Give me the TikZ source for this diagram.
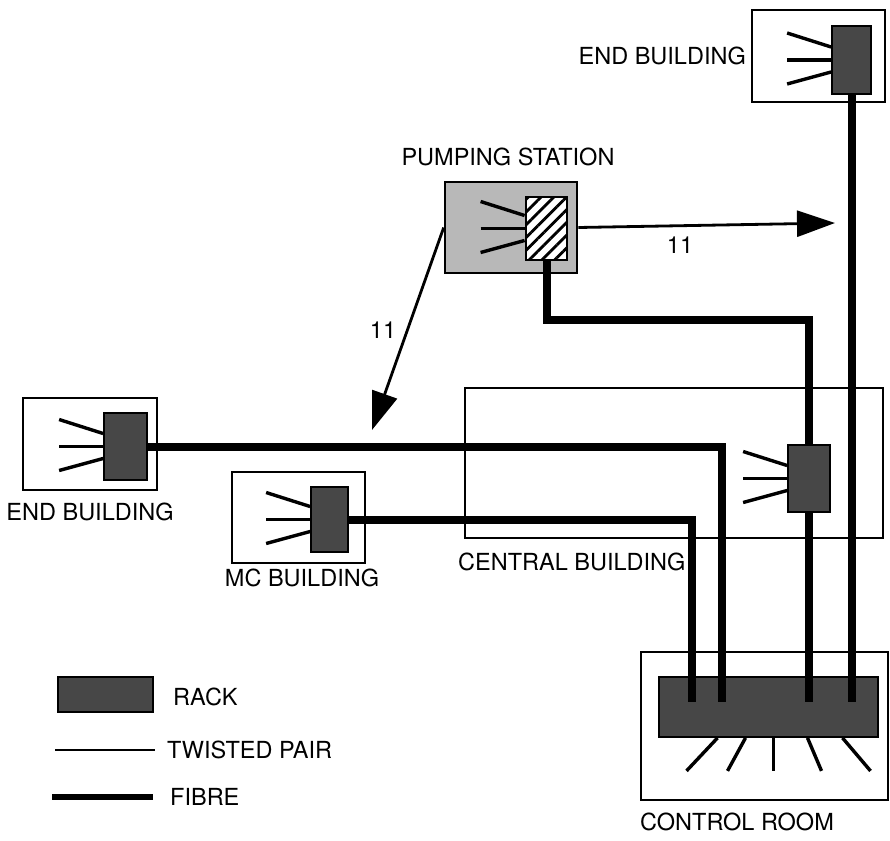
\documentclass[tikz,border=0pt]{standalone}
\usepackage{fontspec}
\setmainfont{TeX Gyre Heros}
\usetikzlibrary{arrows.meta,patterns.meta}

\tikzset{
  house/.style={draw, line width=2.6pt, inner sep=0pt},
  rack/.style={draw, line width=1.8pt, fill=black!72, inner sep=0pt},
  pair/.style={line width=3.4pt},
  fibre/.style={line width=8pt},
  flow/.style={line width=2.8pt, -{Triangle[length=38pt,width=26pt]}},
  lbl/.style={inner sep=0pt}
}

\begin{document}
\begin{tikzpicture}[x=1pt, y=-1pt, font=\fontsize{23.5}{28}\selectfont]
\useasboundingbox (0,0) rectangle (890,840);

% buildings
\node[house, minimum width=133pt, minimum height=92pt] (endT) at (818.5,56) {};
\node[house, minimum width=134pt, minimum height=92pt] (endL) at (90,444) {};
\node[house, minimum width=133pt, minimum height=91pt] (mc) at (298.5,517.5) {};
\node[house, fill=black!28, minimum width=132pt, minimum height=91pt] (pump) at (511,227.5) {};
\node[house, minimum width=418pt, minimum height=150pt] (cen) at (674,463) {};
\node[house, minimum width=247pt, minimum height=148pt] (ctrl) at (764.5,726) {};

% racks
\node[rack, minimum width=39pt, minimum height=68pt] (rackT) at (851.5,60) {};
\node[rack, minimum width=43pt, minimum height=67pt] (rackL) at (125.5,446.5) {};
\node[rack, minimum width=37pt, minimum height=65pt] (rackMC) at (329.5,519.5) {};
\node[draw, line width=1.8pt, inner sep=0pt, preaction={fill=white},
  pattern={Lines[angle=45, distance=9pt, line width=2.8pt]},
  minimum width=41pt, minimum height=63pt] (rackP) at (546.5,228.5) {};
\node[rack, minimum width=42pt, minimum height=67pt] (rackC) at (809,478.5) {};
\node[rack, minimum width=219pt, minimum height=60pt] (rackCR) at (768.5,707) {};

% fibres
\coordinate (dropA) at (692,702);
\coordinate (dropB) at (722,702);
\coordinate (bendP) at (546.5,320);
\draw[fibre] (rackMC.east) -| (dropA);
\draw[fibre] (rackL.east) -| (dropB);
\draw[fibre] (rackC.south) -- (rackC.south |- dropA);
\draw[fibre] (rackT.south) -- (rackT.south |- dropA);
\draw[fibre] (rackP.south) -- (bendP) -| (rackC.north);

% twisted pairs
\foreach \r in {rackT,rackL,rackMC,rackP,rackC}
  \foreach \a/\b in {-27/-13, 0/0, 24/12}
    \draw[pair] ([shift={(-44,\a)}]\r.west) -- ([shift={(0,\b)}]\r.west);
\foreach \a/\b in {-51/-82, -23/-41, 5/5, 39/53, 74/102}
  \draw[pair] ([shift={(\a,0)}]rackCR.south) -- ([shift={(\b,33)}]rackCR.south);

% links from the pumping station
\coordinate (tipR) at (835,223);
\coordinate (tipL) at (372,430);
\draw[flow] (pump.east) -- (tipR);
\draw[flow] (pump.west) -- (tipL);
\node[lbl] (numR) at (680,245) {11};
\node[lbl] (numL) at (383,330) {11};

% names
\node[lbl, anchor=east] (txtT) at (746,56) {END BUILDING};
\node[lbl] (txtP) at (508,157) {PUMPING STATION};
\node[lbl] (txtL) at (90,512) {END BUILDING};
\node[lbl] (txtMC) at (302,578) {MC BUILDING};
\node[lbl, anchor=west] (txtC) at (458,562) {CENTRAL BUILDING};
\node[lbl] (txtCR) at (737,822) {CONTROL ROOM};

% legend
\node[rack, minimum width=95pt, minimum height=35pt] (keyRack) at (105.5,694.5) {};
\node[lbl, anchor=west] (keyRackTxt) at (173,697) {RACK};
\node[lbl, anchor=west] (keyPairTxt) at (167,750) {TWISTED PAIR};
\node[lbl, anchor=west] (keyFibreTxt) at (170,797) {FIBRE};
\coordinate (keyPair) at (55,750);
\coordinate (keyFibre) at (52,797);
\draw[line width=2.4pt] (keyPair) -- ([shift={(-12,0)}]keyPairTxt.west);
\draw[line width=6pt] (keyFibre) -- ([shift={(-17,0)}]keyFibreTxt.west);

\end{tikzpicture}
\end{document}
